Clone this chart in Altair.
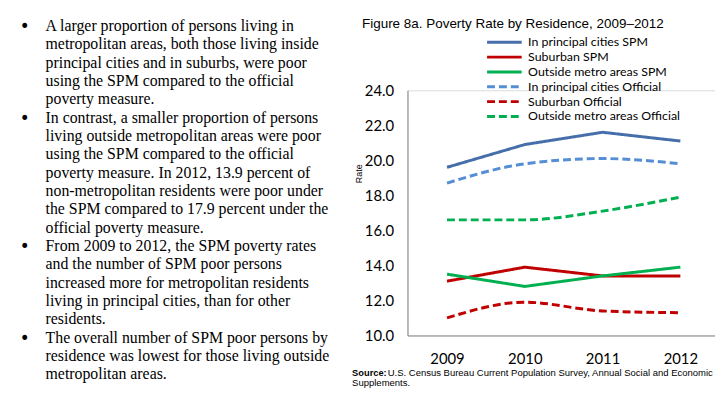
import altair as alt
import pandas as pd

years = ["2009", "2010", "2011", "2012"]
series = [
    "In principal cities SPM",
    "Suburban SPM",
    "Outside metro areas SPM",
    "In principal cities Official",
    "Suburban Official",
    "Outside metro areas Official",
]
pc_spm = [19.6, 20.9, 21.6, 21.1]
sub_spm = [13.1, 13.9, 13.4, 13.4]
out_spm = [13.5, 12.8, 13.4, 13.9]
pc_off = [18.7, 19.8, 20.1, 19.8]
sub_off = [11.0, 11.9, 11.4, 11.3]
out_off = [16.6, 16.6, 17.1, 17.9]
colors = ["#466EAA", "#C00000", "#00B050", "#558ED5", "#C00000", "#00B050"]
dashes = [[1, 0], [1, 0], [1, 0], [8, 4], [8, 4], [8, 4]]
y_ticks = [10, 12, 14, 16, 18, 20, 22, 24]

title_text = "Figure 8a.  Poverty Rate by Residence, 2009\u20132012"
source_bold = "Source:"
source_rest = "U.S. Census Bureau Current Population Survey, Annual Social and Economic"
source_line2 = "Supplements."

para_lines = [
    "A larger proportion of persons living in",
    "metropolitan areas, both those living inside",
    "principal cities and in suburbs, were poor",
    "using the SPM compared to the official",
    "poverty measure.",
    "In contrast, a smaller proportion of persons",
    "living outside metropolitan areas were poor",
    "using the SPM compared to the official",
    "poverty measure.  In 2012, 13.9 percent of",
    "non-metropolitan residents were poor under",
    "the SPM compared to 17.9 percent under the",
    "official poverty measure.",
    "From 2009 to 2012, the SPM poverty rates",
    "and the number of SPM poor persons",
    "increased more for metropolitan residents",
    "living in principal  cities, than for other",
    "residents.",
    "The overall number of SPM poor persons by",
    "residence was lowest for those living outside",
    "metropolitan areas.",
]
bullet_starts = [0, 5, 12, 17]
LINE_H = 18.55

values = [pc_spm, sub_spm, out_spm, pc_off, sub_off, out_off]
rows = []
for s, vals in zip(series, values):
    for yr, v in zip(years, vals):
        rows.append({"year": yr, "series": s, "rate": v,
                     "kind": "Official" if "Official" in s else "SPM"})
df = pd.DataFrame(rows)

legend = alt.Legend(
    orient="none", legendX=79, legendY=-55, title=None,
    symbolType="M-1,0H6", symbolSize=100, symbolStrokeWidth=3,
    labelFont="Lato", labelFontSize=12.5, labelColor="#000000",
    labelOffset=30, rowPadding=2, padding=0,
)

x_enc = alt.X("year:O", title=None, sort=years,
              scale=alt.Scale(type="point", padding=0.4766, align=0.533),
              axis=alt.Axis(labelAngle=0, labelFont="Lato", labelFontSize=15,
                            labelColor="#000000", ticks=False, tickSize=0,
                            labelPadding=16, domainColor="#868686",
                            domainWidth=1))
y_enc = alt.Y("rate:Q", title="Rate",
              scale=alt.Scale(domain=[10, 24], nice=False, zero=False),
              axis=alt.Axis(values=y_ticks, format=".1f", grid=False, ticks=False,
                            tickSize=0, labelFont="Lato", labelFontSize=15,
                            labelColor="#000000", labelPadding=14,
                            domainColor="#868686", titleFont="Liberation Sans",
                            titleFontSize=9, titleFontWeight="normal",
                            titleColor="#000000", titleAngle=270,
                            titleX=-50, titleY=84, titleAlign="center",
                            titleBaseline="middle"))
color_enc = alt.Color("series:N", sort=series,
                      scale=alt.Scale(domain=series, range=colors), legend=legend)
dash_enc = alt.StrokeDash("series:N", sort=series,
                          scale=alt.Scale(domain=series, range=dashes), legend=legend)

base = alt.Chart(df)
spm = base.transform_filter(alt.datum.kind == "SPM").mark_line(
    strokeWidth=3, interpolate="linear").encode(
    x=x_enc, y=y_enc, color=color_enc, strokeDash=dash_enc)
off = base.transform_filter(alt.datum.kind == "Official").mark_line(
    strokeWidth=3, interpolate="monotone").encode(
    x=x_enc, y=y_enc, color=color_enc, strokeDash=dash_enc)

one = pd.DataFrame({"k": [0]})

def txt(text, x, y, font, size, weight="normal", lh=None, align="left"):
    kw = dict(align=align, baseline="alphabetic", font=font, fontSize=size,
              fontWeight=weight, color="#000000")
    if lh is not None:
        kw["lineHeight"] = lh
    return alt.Chart(one).mark_text(**kw).encode(
        x=alt.value(x), y=alt.value(y), text=alt.value(text))

PARA_Y = -60
title = txt(title_text, -46, -62.5, "Liberation Sans", 13.6)
para = txt(para_lines, -366, PARA_Y, "Liberation Serif", 16, lh=LINE_H)
bullets = [txt("\u2022", -387, PARA_Y + LINE_H * k + 1, "DejaVu Sans", 17,
               align="center") for k in bullet_starts]
src1 = txt(source_bold, -56, 288.5, "Liberation Sans", 9.4, weight="bold")
src2 = txt(source_rest, -20, 288.5, "Liberation Sans", 9.6)
src3 = txt(source_line2, -56, 299, "Liberation Sans", 9.6)

chart = alt.layer(spm, off, title, para, *bullets, src1, src2, src3).properties(
    width=311, height=248,
    autosize=alt.AutoSizeParams(type="none"),
    padding={"left": 404, "top": 81, "right": 0, "bottom": 55},
).configure_view(stroke=None).configure(background="#ffffff")

chart.save("out.html", embed_options={"renderer": "svg", "actions": False})
